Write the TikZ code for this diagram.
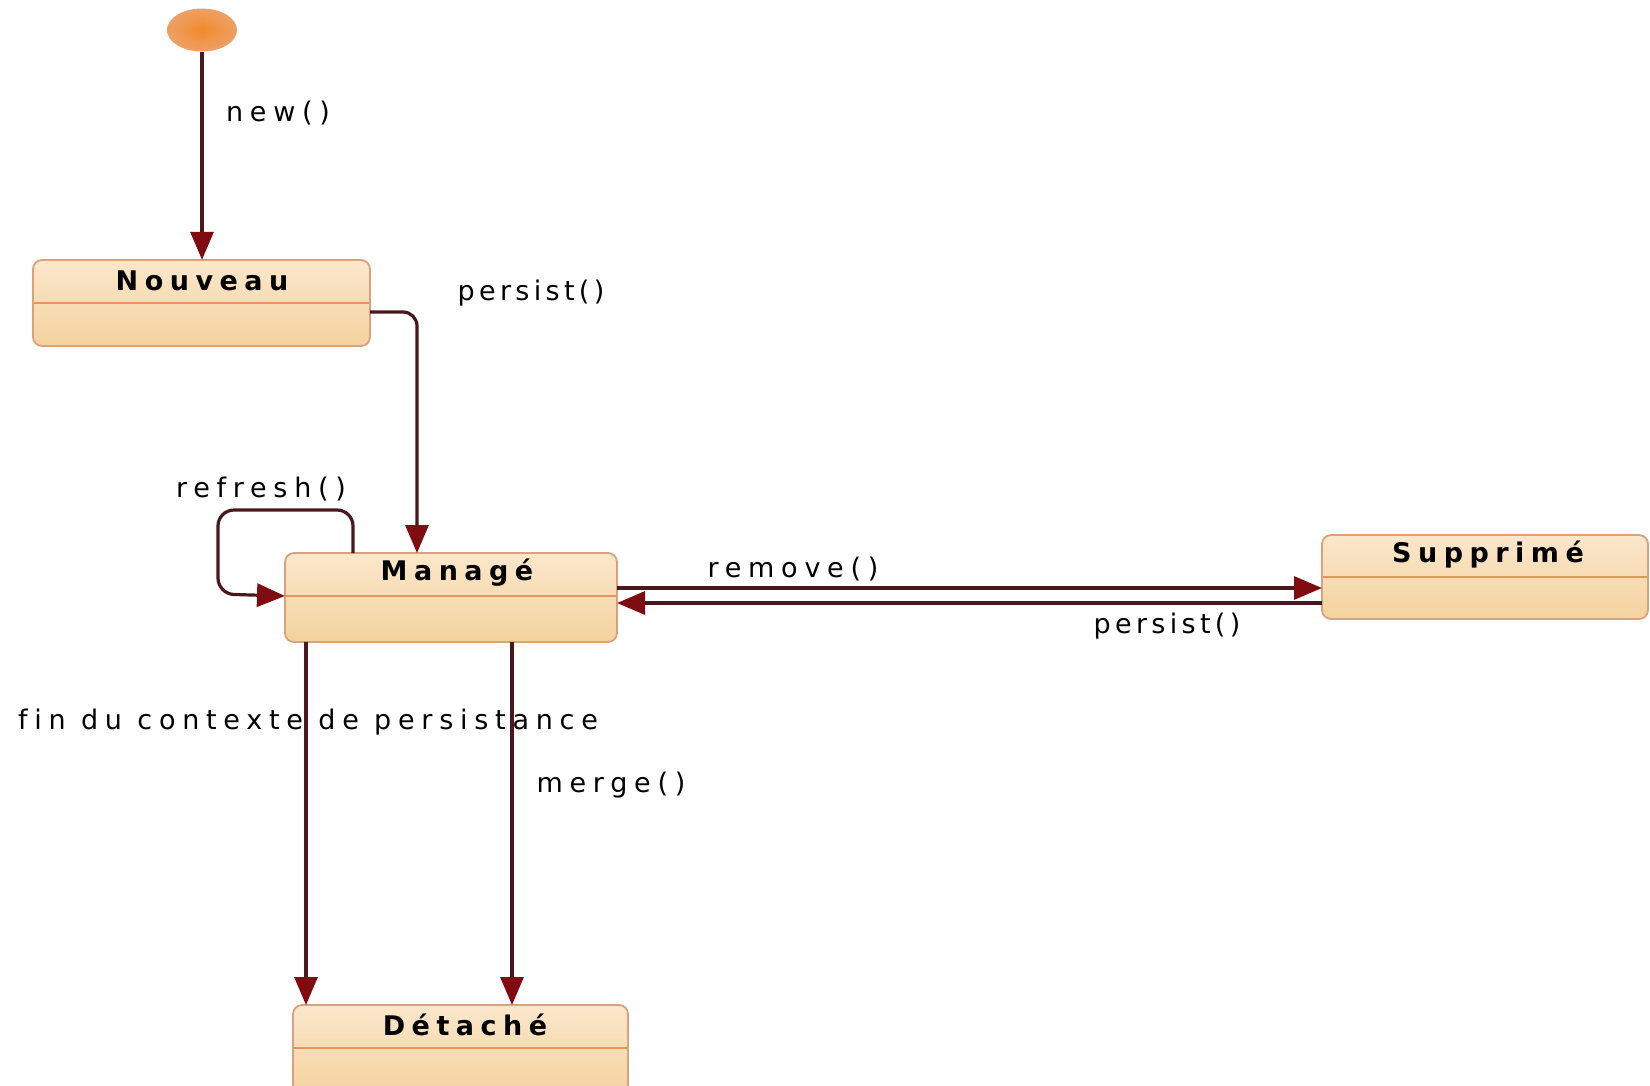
\documentclass[tikz,border=0pt]{standalone}
\usepackage{fontspec}
\setmainfont{DejaVu Sans}
\usetikzlibrary{arrows.meta,shapes.geometric}
\definecolor{linec}{HTML}{4A181C}
\definecolor{tipc}{HTML}{7E0C10}
\definecolor{boxtop}{HTML}{FBE7CB}
\definecolor{boxbot}{HTML}{F4D29E}
\definecolor{boxborder}{HTML}{D9A27C}
\definecolor{divc}{HTML}{E3955C}
\definecolor{initin}{HTML}{F28A2C}
\definecolor{initout}{HTML}{EDA066}
\tikzset{
  lbl/.style={font=\fontsize{27}{31}\selectfont\addfontfeature{LetterSpace=25,Ligatures=NoCommon}, inner sep=0pt, text=black},
  lblnarrow/.style={font=\fontsize{27}{31}\selectfont\addfontfeature{LetterSpace=16,Ligatures=NoCommon}, inner sep=0pt, text=black},
  sname/.style={font=\fontsize{27}{31}\selectfont\bfseries\addfontfeature{LetterSpace=24,Ligatures=NoCommon}, inner sep=0pt, text=black},
  statebox/.style={draw=boxborder, line width=1.8pt, rounded corners=9pt, top color=boxtop, bottom color=boxbot},
  divider/.style={draw=divc, line width=1.5pt},
  conn/.style={draw=linec, line width=3.2pt, -{Triangle[length=28pt,width=23pt,color=tipc]}},
  initst/.style={ellipse, minimum width=70pt, minimum height=43pt, inner color=initin, outer color=initout, draw=none, inner sep=0pt}
}
\begin{document}
\begin{tikzpicture}[x=1pt,y=-1pt]
\useasboundingbox[fill=white] (0,0) rectangle (1650,1085);

% initial state
\node[initst] (init) at (202,30) {};

% state boxes
\path[statebox] (33,260) rectangle (370,346);
\node[inner sep=0pt, minimum width=337pt, minimum height=86pt] (nouveau) at (201.5,303) {};
\draw[divider] (34,303) -- (369,303);
\node[sname] (tnouveau) at (202,281) {Nouveau};

\path[statebox] (285,553) rectangle (617,642);
\node[inner sep=0pt, minimum width=332pt, minimum height=89pt] (manage) at (451,597.5) {};
\draw[divider] (286,596) -- (616,596);
\node[sname] (tmanage) at (457,573) {Managé};

\path[statebox] (1322,535) rectangle (1648,619);
\node[inner sep=0pt, minimum width=326pt, minimum height=84pt] (supprime) at (1485,577) {};
\draw[divider] (1323,577) -- (1647,577);
\node[sname] (tsupprime) at (1488,555) {Supprimé};

\path[statebox] (293,1005) rectangle (628,1095);
\node[inner sep=0pt, minimum width=335pt, minimum height=90pt] (detache) at (460.5,1050) {};
\draw[divider] (294,1048) -- (627,1048);
\node[sname] (tdetache) at (465,1025) {Détaché};

% connectors
\draw[conn] (init.south) -- (init.south |- nouveau.north);
\coordinate (np) at (370,312);
\draw[conn, rounded corners=14pt] (np) -- (417,312) -- (417,553);
\coordinate (rs) at (353,553);
\draw[conn, rounded corners=16pt] (rs) -- (353,510) -- (218,510) -- (218,594) -- (285,596);
\coordinate (ms1) at (617,588);
\coordinate (ss1) at (1322,588);
\draw[conn] (ms1) -- (ss1);
\coordinate (ms2) at (617,603);
\coordinate (ss2) at (1322,603);
\draw[conn] (ss2) -- (ms2);
\draw[conn] (306,642) -- (306,1005);
\draw[conn] (512,642) -- (512,1005);

% labels
\node[lbl] (lnew) at (278,113) {new()};
\node[lblnarrow] (lpersist1) at (531,293) {persist()};
\node[lbl] (lrefresh) at (261,489) {refresh()};
\node[lbl] (lremove) at (793,569) {remove()};
\node[lblnarrow] (lpersist2) at (1167,626) {persist()};
\node[lbl] (lfin) at (308,722) {fin du contexte de persistance};
\node[lbl] (lmerge) at (611,785) {merge()};
\end{tikzpicture}
\end{document}
